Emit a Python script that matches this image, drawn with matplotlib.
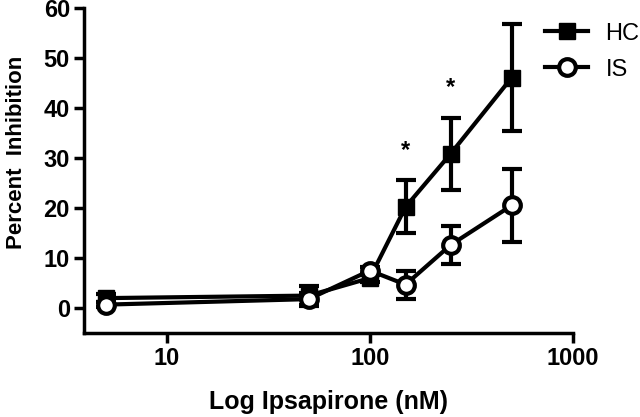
import matplotlib
matplotlib.use("Agg")
import matplotlib.pyplot as plt

plt.rcParams['font.family'] = ['Liberation Sans', 'DejaVu Sans']

dose = [5, 50, 100, 150, 250, 500]
hc_mean = [2.0, 2.5, 6.0, 20.2, 30.8, 46.0]
hc_err = [0.8, 2.0, 0.8, 5.3, 7.2, 10.7]
is_mean = [0.7, 1.8, 7.5, 4.7, 12.6, 20.5]
is_err = [0.5, 1.2, 0.8, 2.8, 3.7, 7.3]
star_x = [150, 250]
star_y = [31.5, 44.0]
yticks = [0, 10, 20, 30, 40, 50, 60]
xticks = [10, 100, 1000]
xtick_labels = ['10', '100', '1000']

fig = plt.figure(figsize=(6.4, 4.17), dpi=100)
ax = fig.add_axes([0.131, 0.201, 0.764, 0.781])

lw = 3.0
ax.errorbar(dose, hc_mean, yerr=hc_err, color='black', lw=lw, marker='s', ms=12,
            mfc='black', mec='black', capsize=7, capthick=lw, elinewidth=lw,
            label='HC', zorder=3)
ax.errorbar(dose, is_mean, yerr=is_err, color='black', lw=lw, marker='o', ms=12,
            mfc='white', mec='black', mew=3.0, capsize=7, capthick=lw, elinewidth=lw,
            label='IS', zorder=4)
for x, y in zip(star_x, star_y):
    ax.text(x, y, '*', ha='center', va='center', fontsize=17, fontweight='bold')

ax.set_xscale('log')
ax.set_xlim(3.9, 1000)
ax.set_ylim(-5, 60)
ax.set_yticks(yticks)
ax.set_xticks(xticks)
ax.set_xticklabels(xtick_labels)
ax.xaxis.set_minor_locator(matplotlib.ticker.NullLocator())

for s in ['top', 'right']:
    ax.spines[s].set_visible(False)
for s in ['left', 'bottom']:
    ax.spines[s].set_linewidth(2.5)
ax.tick_params(axis='both', which='major', direction='out', length=7, width=2.5,
               labelsize=17, pad=3)
for lab in ax.get_xticklabels() + ax.get_yticklabels():
    lab.set_fontweight('bold')

ax.set_ylabel('Percent  Inhibition', fontsize=16, fontweight='bold')
ax.yaxis.set_label_coords(-0.117, 0.556)
ax.set_xlabel('Log Ipsapirone (nM)', fontsize=18, fontweight='bold', labelpad=14)

handles, labels = ax.get_legend_handles_labels()
handles = [h[0] for h in handles]
leg = fig.legend(handles, labels, loc='upper left', bbox_to_anchor=(0.83, 0.98),
                 frameon=False, handlelength=1.8, labelspacing=0.6,
                 handletextpad=0.75, borderaxespad=0.2,
                 prop={'family': ['Liberation Sans', 'DejaVu Sans'], 'size': 17})

fig.savefig('out.png', dpi=100)
